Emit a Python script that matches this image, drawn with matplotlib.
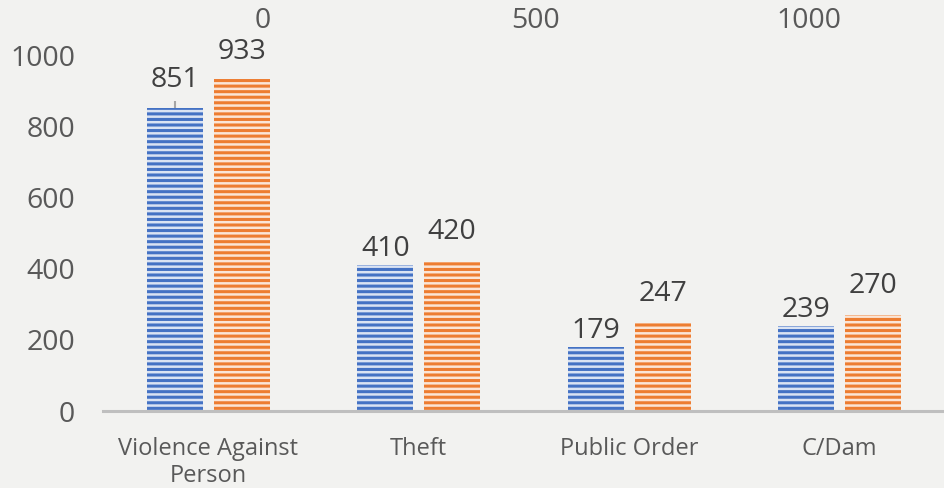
import numpy as np
import matplotlib.pyplot as plt

# chart data
categories = ["Violence Against\nPerson", "Theft", "Public Order", "C/Dam"]
series_a = [851, 410, 179, 239]
series_b = [933, 420, 247, 270]
top_ticks = [0, 500, 1000]
left_ticks = [0, 200, 400, 600, 800, 1000]

bg = "#f2f2f0"
blue, blue_bg = "#4472c4", "#dae3f3"
orange, orange_bg = "#ed7d31", "#fbe5d6"

plt.rcParams["font.family"] = ["Open Sans", "DejaVu Sans"]
plt.rcParams["hatch.linewidth"] = 2.2

fig = plt.figure(figsize=(9.45, 4.88), dpi=100, facecolor=bg)
ax = fig.add_axes([103 / 945, 1 - 411 / 488, 842 / 945, 373 / 488])
ax.set_facecolor(bg)

x = np.arange(len(categories))
w = 0.266
off = 0.159

ax.bar(x - off, series_a, w, color=blue_bg, edgecolor=blue, lw=0, hatch="---")
ax.bar(x + off, series_b, w, color=orange_bg, edgecolor=orange, lw=0, hatch="---")

# data labels (Excel-style, orange ones sit higher)
for i, v in enumerate(series_a):
    dy = 10 if i == 0 else 1.5
    ax.annotate(str(v), (x[i] - off, v), xytext=(0, dy), textcoords="offset points",
                ha="center", va="bottom", fontsize=20.5, color="#404040")
for i, v in enumerate(series_b):
    dy = 9.5 if i == 0 else 11
    ax.annotate(str(v), (x[i] + off, v), xytext=(0, dy), textcoords="offset points",
                ha="center", va="bottom", fontsize=20.5, color="#404040")

# leader line for the first label
ax.vlines(x[0] - off, series_a[0], series_a[0] + 21, color="#a6a6a6", lw=1.5)

ax.set_xlim(-0.5, len(categories) - 0.5)
ax.set_ylim(0, 1048)
ax.set_yticks(left_ticks)
ax.set_xticks(x)
ax.set_xticklabels(categories, fontsize=17, color="#595959", linespacing=1.15)
ax.tick_params(axis="y", labelsize=20.5, labelcolor="#595959", length=0, pad=20)
ax.tick_params(axis="x", length=0, pad=19)
for s in ["top", "left", "right"]:
    ax.spines[s].set_visible(False)
ax.spines["bottom"].set_color("#bfbfbf")
ax.spines["bottom"].set_linewidth(2.2)

# secondary axis on top
ax2 = ax.twiny()
ax2.set_xlim(-293, 1250)
ax2.set_xticks(top_ticks)
ax2.tick_params(axis="x", labelsize=20.5, labelcolor="#595959", length=0, pad=2)
for s in ax2.spines.values():
    s.set_visible(False)

fig.savefig("out.png", dpi=100, facecolor=bg)
